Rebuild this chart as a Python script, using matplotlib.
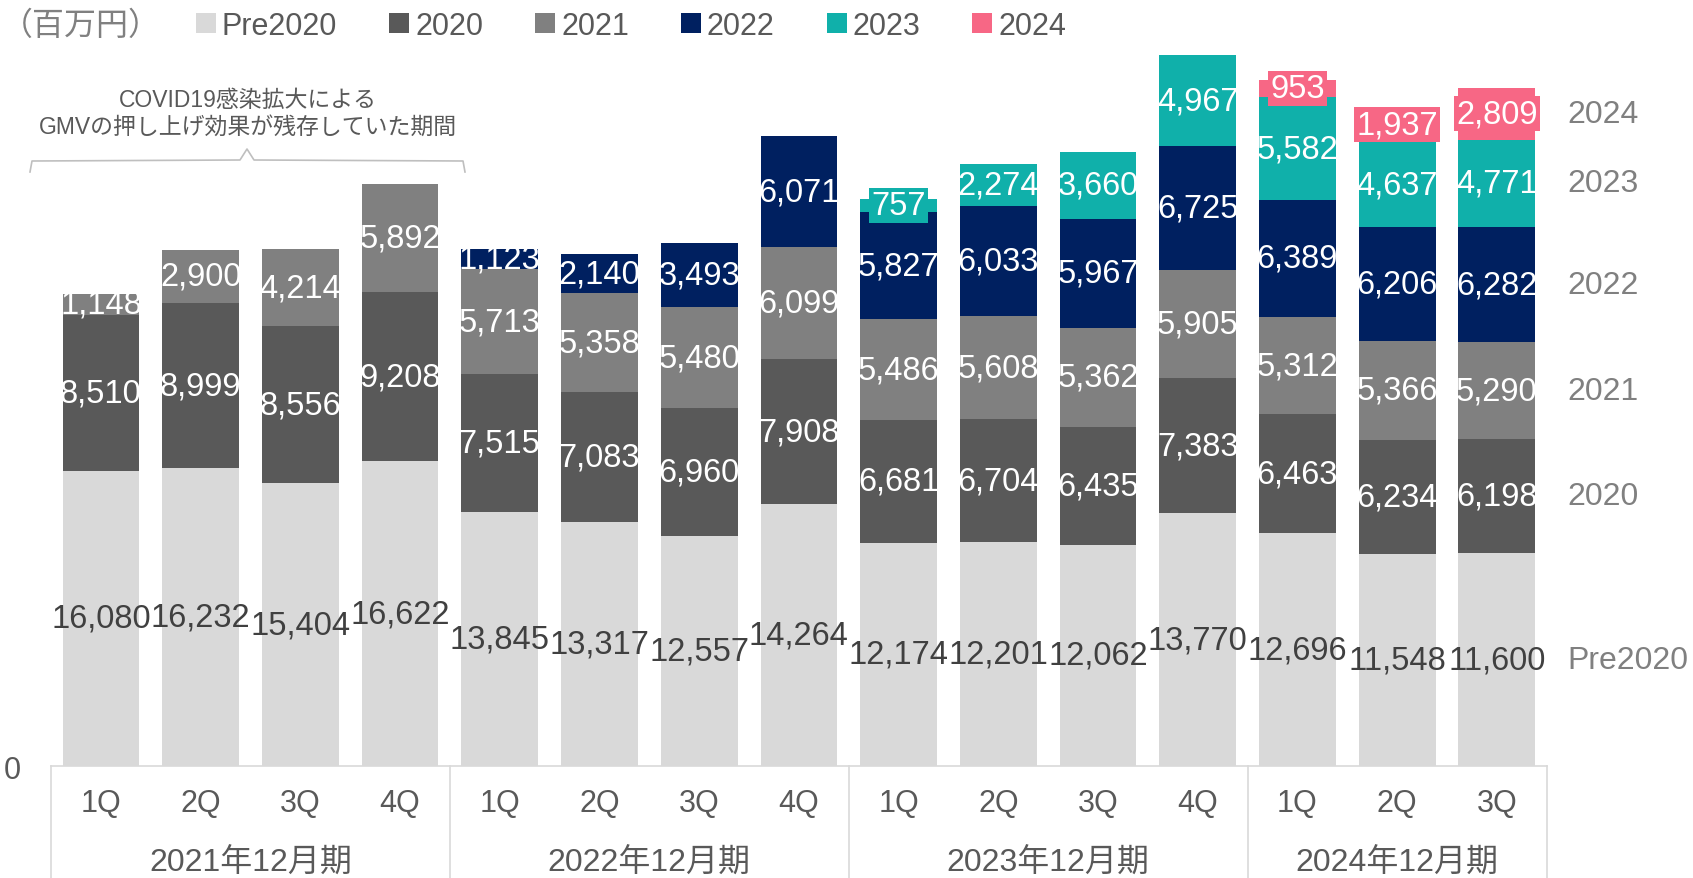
import matplotlib.pyplot as plt
import matplotlib.transforms as mtransforms
from matplotlib.patches import Patch
import numpy as np

plt.rcParams['font.family'] = ['Liberation Sans', 'Noto Sans CJK JP']

quarters = ['1Q', '2Q', '3Q', '4Q', '1Q', '2Q', '3Q', '4Q',
            '1Q', '2Q', '3Q', '4Q', '1Q', '2Q', '3Q']
years = ['2021年12月期', '2022年12月期', '2023年12月期', '2024年12月期']
year_sizes = [4, 4, 4, 3]

series_names = ['Pre2020', '2020', '2021', '2022', '2023', '2024']
pre2020 = [16080, 16232, 15404, 16622, 13845, 13317, 12557, 14264,
           12174, 12201, 12062, 13770, 12696, 11548, 11600]
y2020 = [8510, 8999, 8556, 9208, 7515, 7083, 6960, 7908,
         6681, 6704, 6435, 7383, 6463, 6234, 6198]
y2021 = [1148, 2900, 4214, 5892, 5713, 5358, 5480, 6099,
         5486, 5608, 5362, 5905, 5312, 5366, 5290]
y2022 = [0, 0, 0, 0, 1123, 2140, 3493, 6071,
         5827, 6033, 5967, 6725, 6389, 6206, 6282]
y2023 = [0, 0, 0, 0, 0, 0, 0, 0,
         757, 2274, 3660, 4967, 5582, 4637, 4771]
y2024 = [0, 0, 0, 0, 0, 0, 0, 0,
         0, 0, 0, 0, 953, 1937, 2809]

colors = ['#D9D9D9', '#595959', '#808080', '#002060', '#10B0AA', '#F76785']
text_colors = ['#404040', 'white', 'white', 'white', 'white', 'white']
all_series = [pre2020, y2020, y2021, y2022, y2023, y2024]

fig = plt.figure(figsize=(16.93, 8.79), dpi=100)
ax = fig.add_axes([0.0302, 0.1274, 0.8834, 0.8726])

x = np.arange(len(quarters))
bottom = np.zeros(len(x))
for i, vals in enumerate(all_series):
    vals = np.array(vals, dtype=float)
    ax.bar(x, vals, 0.77, bottom=bottom, color=colors[i], linewidth=0)
    for j in range(len(x)):
        if vals[j] <= 0:
            continue
        box = None
        # small top segments get a coloured label box like the original
        if i == 5 or (i == 4 and vals[j] < 1000):
            box = dict(boxstyle='square,pad=0.06', fc=colors[i], ec='none')
        ax.text(x[j], bottom[j] + vals[j] / 2, f'{int(vals[j]):,}',
                ha='center', va='center', fontsize=23.5, color=text_colors[i],
                bbox=box, zorder=5)
    # series name on the right, next to the last bar
    ax.text(14.71, bottom[-1] + vals[-1] / 2, series_names[i], ha='left',
            va='center', fontsize=23, color='#808080', clip_on=False)
    bottom += vals

ax.set_xlim(-0.5, 14.5)
ax.set_ylim(0, 41800)
ax.set_yticks([0])
ax.set_yticklabels(['0'], fontsize=22, color='#595959')
ax.tick_params(axis='y', length=0, pad=22)
ax.set_xticks([])
for s in ['top', 'right', 'left']:
    ax.spines[s].set_visible(False)
ax.spines['bottom'].set_color('#D9D9D9')
ax.spines['bottom'].set_linewidth(1.2)

# category axis: quarters and fiscal years
trans = mtransforms.blended_transform_factory(ax.transData, fig.transFigure)
for j, q in enumerate(quarters):
    ax.text(x[j], 1 - 804 / 879, q, transform=trans, ha='center', va='center',
            fontsize=22, color='#595959')
start = 0
edges = [-0.5]
for yname, n in zip(years, year_sizes):
    center = start + (n - 1) / 2
    ax.text(center, 1 - 864 / 879, yname, transform=trans, ha='center',
            va='center', fontsize=23, color='#595959')
    start += n
    edges.append(start - 0.5)
for e in edges:
    ax.plot([e, e], [1 - 767 / 879, 0], transform=trans, color='#D9D9D9',
            lw=1.2, clip_on=False)

# unit and legend
fig.text(1 / 1693, 1 - 27 / 879, '（百万円）', ha='left', va='center',
         fontsize=23, color='#808080')
handles = [Patch(facecolor=c, edgecolor='none') for c in colors]
fig.legend(handles, series_names, ncol=6, loc='center left',
           bbox_to_anchor=(196 / 1693, 1 - 27 / 879), frameon=False,
           fontsize=22, labelcolor='#595959', handlelength=0.65,
           handleheight=0.65, handletextpad=0.2, columnspacing=1.7,
           borderpad=0, borderaxespad=0)

# annotation with brace
fig.text(248 / 1693, 1 - 114 / 879,
         'COVID19感染拡大による\nGMVの押し上げ効果が残存していた期間',
         ha='center', va='center', fontsize=16.5, color='#595959',
         linespacing=1.2)
bx = np.array([30, 32, 240, 247, 254, 463, 465]) / 1693
by = 1 - np.array([173, 162, 161, 150, 161, 162, 173]) / 879
fig.add_artist(plt.Line2D(bx, by, transform=fig.transFigure,
                          color='#BFBFBF', lw=1.2))

plt.savefig('out.png', dpi=100)
